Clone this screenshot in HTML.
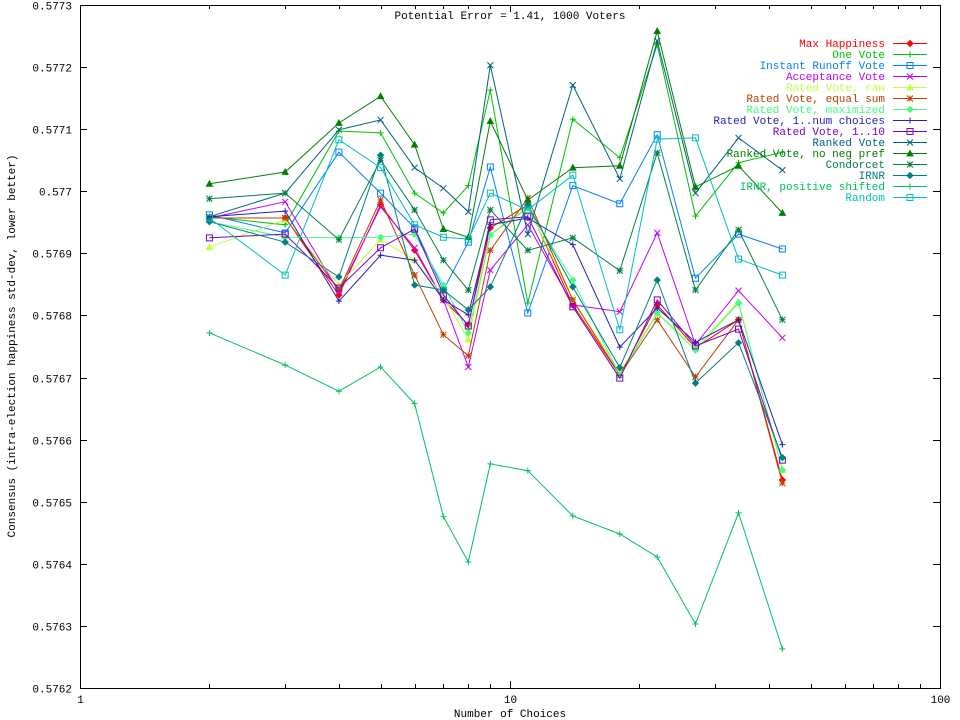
<!DOCTYPE html>
<html><head><meta charset="utf-8"><style>
body{margin:0;background:#fff;}
svg{display:block;font-family:"Liberation Mono",monospace;font-size:11px;}
</style></head><body>
<svg id="chart" width="960" height="720" viewBox="0 0 960 720" xmlns="http://www.w3.org/2000/svg">
<rect width="960" height="720" fill="#fff"/>
<text x="510" y="19" text-anchor="middle">Potential Error = 1.41, 1000 Voters</text>
<text x="510" y="717" text-anchor="middle">Number of Choices</text>
<text transform="translate(15,346) rotate(-90)" text-anchor="middle">Consensus (intra-election happiness std-dev, lower better)</text>
<g id="axes"></g>
<g id="series"></g>
<g id="legend"></g>
</svg>
<script>
const xCats=[2,3,4,5,6,7,8,9,11,14,18,22,27,34,43];
const yTicks=[0.5762,0.5763,0.5764,0.5765,0.5766,0.5767,0.5768,0.5769,0.577,0.5771,0.5772,0.5773];
const yTickLabels=["0.5762","0.5763","0.5764","0.5765","0.5766","0.5767","0.5768","0.5769","0.577","0.5771","0.5772","0.5773"];
const xTicks=[1,10,100];
const xTickLabels=["1","10","100"];
const seriesNames=["Max Happiness","One Vote","Instant Runoff Vote","Acceptance Vote","Rated Vote, raw","Rated Vote, equal sum","Rated Vote, maximized","Rated Vote, 1..num choices","Rated Vote, 1..10","Ranked Vote","Ranked Vote, no neg pref","Condorcet","IRNR","IRNR, positive shifted","Random"];
const sMaxHappiness=[.576957,.576957,.576833,.576978,.576905,.576825,.576785,.576941,.576978,.576817,.576704,.576817,.576748,.576793,.576535];
const sOneVote=[.576959,.576946,.577097,.577094,.576997,.576965,.577009,.577163,.576820,.577116,.577054,.577236,.576960,.577046,.577063];
const sIRV=[.576962,.576933,.577063,.576997,.576941,.576841,.576918,.577039,.576804,.577009,.576980,.577091,.576860,.576931,.576907];
const sAcceptance=[.576957,.576983,.576838,.576975,.576909,.576825,.576717,.576873,.576946,.576817,.576806,.576933,.576753,.576840,.576764];
const sRatedRaw=[.576910,.576954,.576849,.576922,.576889,.576831,.576761,.576930,.576976,.576825,.576709,.576804,.576748,.576822,.576551];
const sEqualSum=[.576957,.576957,.576841,.576986,.576865,.576769,.576735,.576905,.576989,.576825,.576704,.576793,.576701,.576793,.576530];
const sMaximized=[.576951,.576926,.576925,.576926,.576931,.576849,.576772,.576930,.576973,.576857,.576703,.576804,.576744,.576820,.576551];
const sNumChoices=[.576959,.576968,.576823,.576897,.576889,.576825,.576801,.576946,.576957,.576914,.576749,.576812,.576757,.576793,.576592];
const sOneToTen=[.576925,.576931,.576844,.576909,.576939,.576833,.576783,.576954,.576959,.576814,.576699,.576825,.576751,.576778,.576567];
const sRanked=[.576959,.576997,.577099,.577115,.577038,.577005,.576967,.577203,.576931,.577171,.577020,.577242,.576997,.577086,.577034];
const sRankedNoNeg=[.577012,.577031,.577110,.577153,.577075,.576939,.576926,.577113,.576986,.577038,.577041,.577258,.577007,.577041,.576965];
const sCondorcet=[.576988,.576997,.576922,.577050,.576970,.576889,.576841,.576970,.576905,.576925,.576872,.577062,.576841,.576938,.576793];
const sIRNR=[.576951,.576918,.576862,.577058,.576849,.576841,.576809,.576846,.576978,.576846,.576716,.576857,.576691,.576756,.576571];
const sIRNRPos=[.576772,.576720,.576678,.576717,.576658,.576476,.576403,.576561,.576550,.576477,.576448,.576411,.576303,.576482,.576263];
const sRandom=[.576957,.576865,.577083,.577038,.576946,.576926,.576923,.576997,.576970,.577026,.576777,.577084,.577086,.576891,.576865];

const allSeries=[sMaxHappiness,sOneVote,sIRV,sAcceptance,sRatedRaw,sEqualSum,sMaximized,sNumChoices,sOneToTen,sRanked,sRankedNoNeg,sCondorcet,sIRNR,sIRNRPos,sRandom];
const colors=["#ff0000","#00c000","#0080ff","#c000ff","#c0ff40","#c04000","#40ff80","#2020c0","#8000c0","#006080","#008000","#008040","#008080","#00c060","#00c0c0"];
const markers=["diamond","plus","square","cross","triangle","star","diamond","plus","square","cross","triangle","star","diamond","plus","square"];

const L=80,R=940,T=5,B=688;
const ymin=0.5762,ymax=0.5773;
function xs(v){return L+(Math.log10(v)-0)/2*(R-L);}
function ys(v){return B-(v-ymin)/(ymax-ymin)*(B-T);}
const NS="http://www.w3.org/2000/svg";
function mk(tag,attrs,parent){const e=document.createElementNS(NS,tag);for(const k in attrs)e.setAttribute(k,attrs[k]);parent.appendChild(e);return e;}

const axes=document.getElementById('axes');
const frame=mk('rect',{x:L+0.5,y:T+0.5,width:R-L,height:B-T,fill:'none',stroke:'#000','stroke-width':1},axes);


yTicks.forEach((t,i)=>{
  const y=Math.round(ys(t))+0.5;
  const tk=mk('path',{d:`M${L},${y}h7M${R},${y}h-7`,stroke:'#000','stroke-width':1},axes);
  
  
  const lb=mk('text',{x:L-8,y:y+4,'text-anchor':'end'},axes);
  lb.textContent=yTickLabels[i];
  
  
});
for(let d=1;d<100;d*=10){
  for(let m=2;m<=9;m++){
    const x=Math.round(xs(d*m))+0.5;
    const tk=mk('path',{d:`M${x},${B}v-4M${x},${T}v4`,stroke:'#000','stroke-width':1},axes);
    
    
  }
}
xTicks.forEach((t,i)=>{
  const x=Math.round(xs(t))+0.5;
  const tk=mk('path',{d:`M${x},${B}v-7M${x},${T}v7`,stroke:'#000','stroke-width':1},axes);
  
  
  const lb=mk('text',{x:x,y:B+15,'text-anchor':'middle'},axes);
  lb.textContent=xTickLabels[i];
  
  
});

function marker(type,x,y,c,parent){
  let d;
  const s=3;
  if(type==='diamond')d=`M${x},${y-s}L${x+s},${y}L${x},${y+s}L${x-s},${y}Z`;
  else if(type==='plus')d=`M${x-s},${y}h${2*s}M${x},${y-s}v${2*s}`;
  else if(type==='square')d=`M${x-s},${y-s}h${2*s}v${2*s}h${-2*s}Z`;
  else if(type==='cross')d=`M${x-s},${y-s}l${2*s},${2*s}M${x-s},${y+s}l${2*s},${-2*s}`;
  else if(type==='triangle')d=`M${x},${y-s}L${x+s},${y+s*0.8}L${x-s},${y+s*0.8}Z`;
  else d=`M${x-s},${y}h${2*s}M${x},${y-s}v${2*s}M${x-s},${y-s}l${2*s},${2*s}M${x-s},${y+s}l${2*s},${-2*s}`;
  const fill=(type==='triangle'||type==='diamond')?c:'none';
  const p=mk('path',{d:d,stroke:c,fill:fill,'stroke-width':1},parent);
  
  
}

const sg=document.getElementById('series');
allSeries.forEach((arr,si)=>{
  const g=mk('g',{},sg);
  
  
  const pts=arr.map((v,i)=>xs(xCats[i]).toFixed(1)+','+ys(v).toFixed(1)).join(' ');
  const ln=mk('polyline',{points:pts,fill:'none',stroke:colors[si],'stroke-width':1},g);
  
  
  arr.forEach((v,i)=>marker(markers[si],xs(xCats[i]),ys(v),colors[si],g));
});

const lg=document.getElementById('legend');
seriesNames.forEach((n,i)=>{
  const y=43+i*11;
  const g=mk('g',{},lg);
  
  
  const t=mk('text',{x:885,y:y+4,'text-anchor':'end',fill:colors[i]},g);
  t.textContent=n;
  
  
  const l=mk('line',{x1:893,x2:927,y1:y+0.5,y2:y+0.5,stroke:colors[i],'stroke-width':1},g);
  
  
  marker(markers[i],910,y+0.5,colors[i],g);
});
</script>
</body></html>
